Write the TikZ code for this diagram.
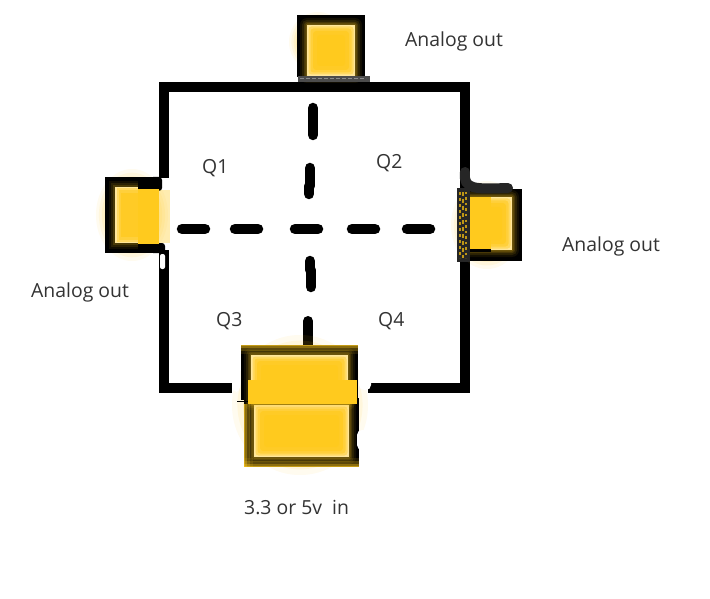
\documentclass[tikz,border=0pt]{standalone}
\usepackage{fontspec}
\setmainfont{Open Sans}
\definecolor{gold}{HTML}{FFCA1E}
\definecolor{goldpale}{HTML}{FFE69A}
\definecolor{txt}{HTML}{333333}
% soft yellow haze: centre x,y and radii
\newcommand{\softglow}[4]{%
  \foreach \k/\o in {1/.07,.92/.09,.84/.11,.76/.13,.68/.15}{
    \fill[gold,opacity=\o] (#1,#2) ellipse [x radius=\k*#3,y radius=\k*#4];}
}
% #1,#2,#3,#4 outer box; #5,#6,#7,#8 inner box (x1,y1,x2,y2)
\newcommand{\glowbox}[8]{%
  \fill[black] (#1,#2) rectangle (#3,#4);
  \foreach \g/\o in {7/.07,5/.10,3/.14,1.5/.20}{
    \fill[gold,opacity=\o,rounded corners=\g pt] (#5-\g,#6-\g) rectangle (#7+\g,#8+\g);}
  \fill[goldpale] (#5,#6) rectangle (#7,#8);
  \foreach \g/\o in {1.5/.45,3.5/.55,6/.7,10/.9}{
    \fill[gold,opacity=\o,rounded corners=3pt] (#5+\g,#6+\g) rectangle (#7-\g,#8-\g);}
}
\tikzset{
  wall/.style={line width=10pt,line cap=butt,black},
  dashbar/.style={line width=10.5pt,line cap=round,black},
  whiteblob/.style={white,rounded corners=5pt},
  lab/.style={text=txt,font=\fontsize{19.4}{22}\selectfont,inner sep=0pt,anchor=west},
}
\begin{document}
\begin{tikzpicture}[x=1pt,y=-1pt]
\useasboundingbox (0,0) rectangle (710,599);
\fill[white] (0,0) rectangle (710,599);
% enclosure
\coordinate (tl) at (164,87);
\coordinate (tr) at (465,87);
\coordinate (br) at (465,388);
\coordinate (bl) at (164,388);
\draw[wall,line join=miter] (164,178) -- (tl) -- (tr) -- (465,188);
\draw[wall,line join=miter] (465,262) -- (br) -- (368,388);
\draw[wall,line join=miter] (232,388) -- (bl) -- (164,250);
% dashes
\foreach \a/\b in {182/205,235/258,295/318,352/375,407/430}{
  \draw[dashbar] (\a,229) -- (\b,229);}
\draw[dashbar] (313,108) -- (313,135);
\draw[dashbar] (310,168) -- (310,186);
\draw[dashbar] (309,186) -- (309,194);
\draw[dashbar] (310,261) -- (310,270);
\draw[dashbar] (311,270) -- (311,287);
\draw[line width=10pt,line cap=round] (308,321) -- (308,348);
% top connector
\softglow{318}{42}{29}{30}
\glowbox{297}{15}{365}{77}{307}{25}{355}{76}
\fill[black!70] (298,76) rectangle (370,82);
\draw[white!55!black,line width=1pt,dash pattern=on 4pt off 2pt] (300,79) -- (366,79);
% left connector
\softglow{132}{215}{36}{46}
\fill[black] (105,177) rectangle (157,253);
\fill[black,rounded corners=3pt] (150,177) rectangle (162,191);
\fill[black,rounded corners=3pt] (150,243) rectangle (165,253);
\fill[gold,opacity=.35] (159,190) rectangle (170,243);
\foreach \g/\o in {6/.07,4/.1,2/.15}{
  \fill[gold,opacity=\o] (115-\g,187-\g) rectangle (138,243+\g);}
\fill[goldpale] (115,187) rectangle (138,243);
\foreach \g/\o in {1.5/.45,3.5/.55,6/.7}{
  \fill[gold,opacity=\o] (115+\g,187+\g) rectangle (138,243-\g);}
\fill[gold] (138,189) rectangle (159,244);
\fill[white,rounded corners=2pt] (160,254) rectangle (165,269);
% right connector
\softglow{487}{225}{36}{44}
\glowbox{465}{189}{522}{261}{470}{197}{512}{250}
\fill[gold] (470,197) rectangle (491,250);
\draw[black!85,line width=10pt,line cap=round] (465,172) .. controls (463,190) and (475,189) .. (508,188);
\fill[black!85] (457,188) rectangle (470,262);
\foreach \x/\p in {460/3,463/4,466/2.5}{
  \draw[gold!75!black,line width=1.2pt,dash pattern=on \p pt off 3pt] (\x,192) -- (\x,258);}
\fill[black] (470,249) rectangle (491,252);
% power connector
\softglow{300}{405}{68}{70}
\glowbox{244}{398}{359}{467}{254}{405}{349}{457}
\glowbox{241}{345}{358}{400}{251}{355}{348}{403}
\fill[gold] (248,380) rectangle (357,404);
\foreach \g/\o in {1/.5,3/.35,6/.22,9/.12}{
  \fill[gold,opacity=\o] (244,467-\g) rectangle (359,467);
  \fill[gold,opacity=\o] (241,345) rectangle (358,345+\g);
  \fill[gold,opacity=\o] (244,404) rectangle (244+\g,467);}
\fill[whiteblob] (233,366) rectangle (240,392);
\fill[whiteblob] (359,352) rectangle (371,390);
\fill[whiteblob] (357,430) rectangle (370,450);
\draw[black,line width=1pt] (237,401) -- (248,401);
% labels
\node[lab] (a1) at (405,41) {Analog out};
\node[lab] (a2) at (562,246) {Analog out};
\node[lab] (a3) at (31,292) {Analog out};
\node[lab] (p) at (244,508) {3.3 or 5v\ \ in};
\node[lab] (q1) at (202,168) {Q1};
\node[lab] (q2) at (376,163) {Q2};
\node[lab] (q3) at (216,321) {Q3};
\node[lab] (q4) at (378,321) {Q4};
\end{tikzpicture}
\end{document}
